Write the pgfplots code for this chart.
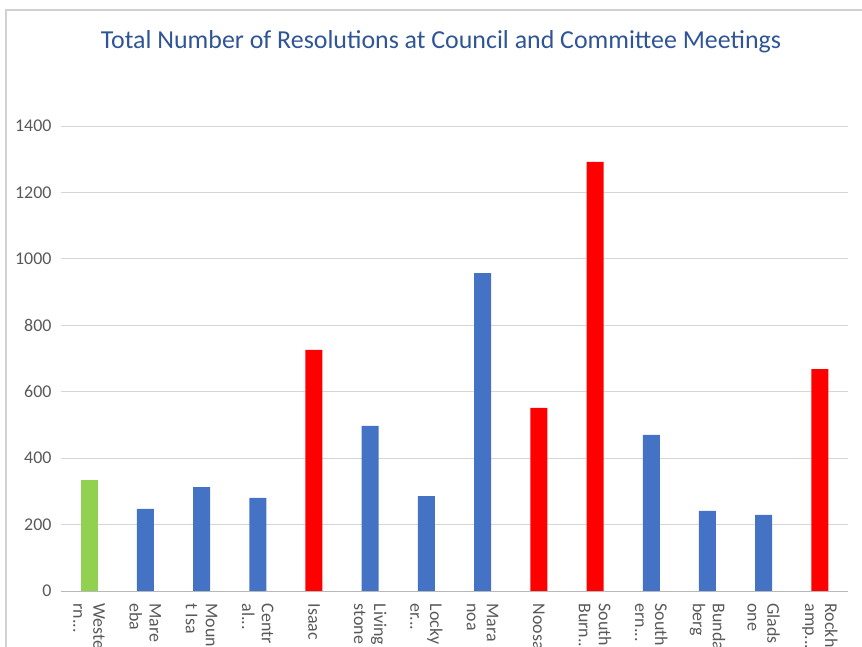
\documentclass[border=0pt]{standalone}
\usepackage{pgfplots}
\pgfplotsset{compat=1.18}
\usepackage{fontspec}
\setmainfont{Carlito}
\definecolor{xblue}{HTML}{4472C4}
\definecolor{xred}{HTML}{FF0000}
\definecolor{xgreen}{HTML}{92D050}
\definecolor{titleblue}{HTML}{2F5597}
\definecolor{labgray}{HTML}{595959}
\newcommand{\dd}{.{}.{}.}
\begin{document}
\begin{tikzpicture}[x=1bp,y=1bp]
\useasboundingbox (0,0) rectangle (862,647);
\draw[draw=black!18, line width=1.2bp] (6,-30) rectangle (900,637);
\node[text=titleblue, font=\fontsize{26}{30}\selectfont] at (441,605) {Total Number of Resolutions at Council and Committee Meetings};
\begin{axis}[
  at={(61bp,56bp)}, anchor=south west,
  scale only axis, width=787bp, height=465bp,
  xmin=-0.5, xmax=13.5, ymin=0, ymax=1400,
  ytick={0,200,400,600,800,1000,1200,1400},
  xtick={0,1,2,3,4,5,6,7,8,9,10,11,12,13},
  xticklabels={{Weste\\rn\dd},{Mare\\eba},{Moun\\t Isa},{Centr\\al\dd},{Isaac},{Living\\stone},{Locky\\er\dd},{Mara\\noa},{Noosa},{South\\Burn\dd},{South\\ern\dd},{Bunda\\berg},{Glads\\one},{Rockh\\amp\dd}},
  axis x line*=bottom, axis y line*=left,
  y axis line style={draw=none},
  x axis line style={draw=black!28, line width=0.9bp},
  major tick length=0pt,
  ymajorgrids, grid style={draw=black!16, line width=0.9bp},
  /pgf/number format/assume math mode=true,
  /pgf/number format/1000 sep={},
  yticklabel style={font=\fontsize{18}{20}\selectfont, text=labgray, xshift=-6bp},
  xticklabel style={font=\fontsize{18}{20}\selectfont, text=labgray, rotate=-90, anchor=west, align=left},
  xticklabel shift=9bp,
  clip=false,
]
\addplot[ybar, bar width=17bp, fill=xgreen, draw=none] coordinates {(0,334)};
\addplot[ybar, bar width=17bp, fill=xblue, draw=none] coordinates {(1,247) (2,313) (3,280) (5,497) (6,286) (7,957) (10,470) (11,241) (12,229)};
\addplot[ybar, bar width=17bp, fill=xred, draw=none] coordinates {(4,726) (8,551) (9,1292) (13,668)};
\end{axis}
\end{tikzpicture}
\end{document}
